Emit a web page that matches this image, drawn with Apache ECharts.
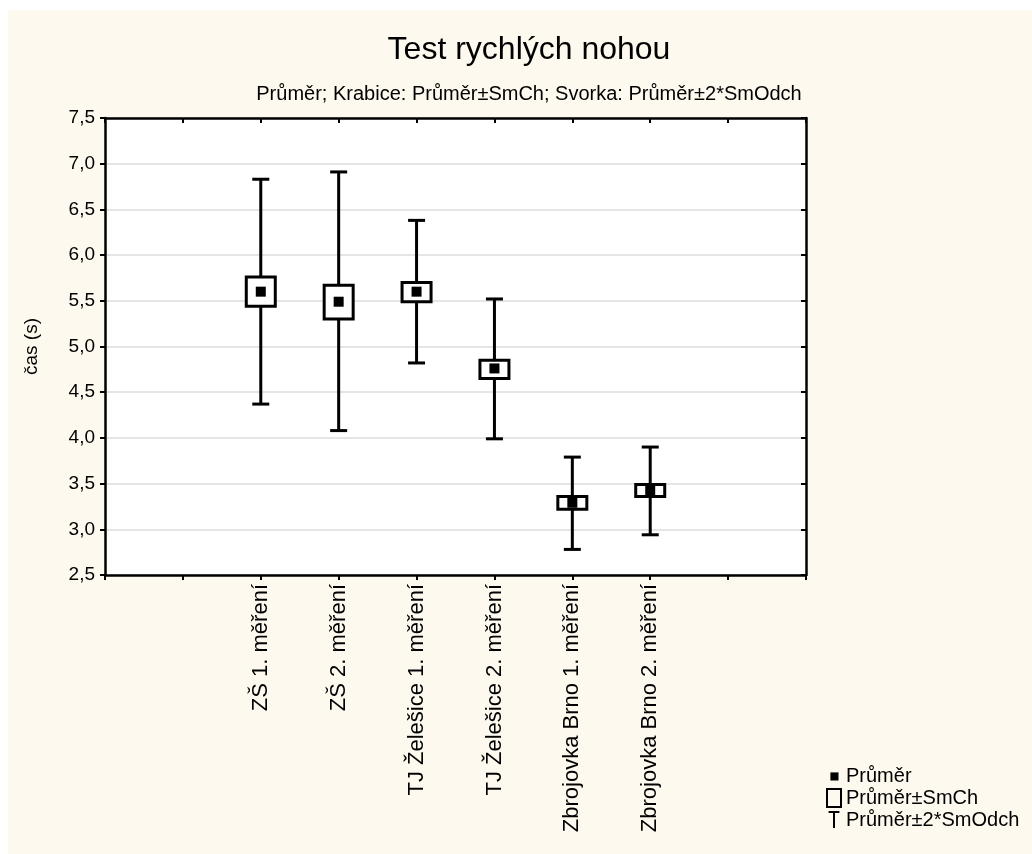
<!DOCTYPE html>
<html>
<head>
<meta charset="utf-8">
<script src="https://cdn.jsdelivr.net/npm/echarts@6/dist/echarts.min.js"></script>
<style>
  html, body { margin: 0; padding: 0; background: #ffffff; width: 1032px; height: 854px; overflow: hidden; }
  #chart { position: absolute; left: 8px; top: 10px; width: 1024px; height: 844px; background: #fef9ee; }
</style>
</head>
<body>
<div id="chart"></div>
<script>
// ---- data ----
const categories = ['ZŠ 1. měření', 'ZŠ 2. měření', 'TJ Želešice 1. měření', 'TJ Želešice 2. měření', 'Zbrojovka Brno 1. měření', 'Zbrojovka Brno 2. měření'];
const means      = [5.60, 5.49, 5.60, 4.76, 3.29, 3.42];
const boxLow     = [5.44, 5.30, 5.49, 4.65, 3.22, 3.36];
const boxHigh    = [5.76, 5.67, 5.70, 4.85, 3.36, 3.49];
const whiskLow   = [4.37, 4.08, 4.82, 3.99, 2.78, 2.94];
const whiskHigh  = [6.83, 6.91, 6.38, 5.52, 3.79, 3.90];
const yTicks     = ['2,5','3,0','3,5','4,0','4,5','5,0','5,5','6,0','6,5','7,0','7,5'];

const FONT = "'Liberation Sans', Arial, sans-serif";
const slotOffset = 2; // categories occupy axis slots 2..7 of 0..9

const meanData  = means.map((m, i) => [i + slotOffset, m]);
const boxData   = boxLow.map((lo, i) => [i + slotOffset, lo, boxHigh[i]]);
const whiskData = whiskLow.map((lo, i) => [i + slotOffset, lo, whiskHigh[i]]);

const chart = echarts.init(document.getElementById('chart'), null, { renderer: 'canvas' });

function renderWhisker(params, api) {
  const x = api.value(0);
  const lo = api.coord([x, api.value(1)]);
  const hi = api.coord([x, api.value(2)]);
  const cap = 8.5;
  const style = { stroke: '#000', lineWidth: 3, fill: null };
  return {
    type: 'group',
    children: [
      { type: 'line', shape: { x1: lo[0], y1: lo[1], x2: hi[0], y2: hi[1] }, style },
      { type: 'line', shape: { x1: lo[0] - cap, y1: lo[1], x2: lo[0] + cap, y2: lo[1] }, style },
      { type: 'line', shape: { x1: hi[0] - cap, y1: hi[1], x2: hi[0] + cap, y2: hi[1] }, style }
    ]
  };
}
function renderBox(params, api) {
  const x = api.value(0);
  const lo = api.coord([x, api.value(1)]);
  const hi = api.coord([x, api.value(2)]);
  const w = 29;
  return {
    type: 'rect',
    shape: { x: lo[0] - w / 2, y: hi[1], width: w, height: lo[1] - hi[1] },
    style: { fill: '#fff', stroke: '#000', lineWidth: 3 }
  };
}

const axisLineStyle = { color: '#000', width: 2.5 };

chart.setOption({
  animation: false,
  textStyle: { fontFamily: FONT, color: '#000' },
  title: [
    { text: 'Test rychlých nohou', left: 516, top: 19, textAlign: 'center',
      textStyle: { fontFamily: FONT, fontSize: 32, fontWeight: 'normal', color: '#000' } },
    { text: 'Průměr; Krabice: Průměr±SmCh; Svorka: Průměr±2*SmOdch', left: 516, top: 69, textAlign: 'center',
      textStyle: { fontFamily: FONT, fontSize: 20, fontWeight: 'normal', color: '#000' } }
  ],
  grid: { left: 97, top: 108, right: 226, bottom: 279, show: true, backgroundColor: '#fff', borderWidth: 0 },
  legend: {
    orient: 'vertical', left: 811, top: 751, itemGap: 2, itemWidth: 18, itemHeight: 18,
    textStyle: { fontFamily: FONT, fontSize: 20, color: '#000', padding: [0, 0, 0, -2] },
    data: [
      { name: 'Průměr', icon: 'path://M0,0M20,20M6,6h9v9h-9z', itemStyle: { color: '#000', borderWidth: 0 } },
      { name: 'Průměr±SmCh', icon: 'path://M3,1h14v18h-14z', itemStyle: { color: 'rgba(0,0,0,0)', borderColor: '#000', borderWidth: 2 } },
      { name: 'Průměr±2*SmOdch', icon: 'path://M0,0M20,20M4,1H16M10,1V19', itemStyle: { color: 'rgba(0,0,0,0)', borderColor: '#000', borderWidth: 2 } }
    ]
  },
  xAxis: [
    { type: 'value', position: 'bottom', min: 0, max: 9, interval: 1,
      axisLine: { show: true, onZero: false, lineStyle: axisLineStyle },
      axisTick: { show: true, inside: false, length: 5, lineStyle: { color: '#000', width: 2 } },
      splitLine: { show: false },
      axisLabel: { rotate: 90, margin: 9, fontSize: 22, fontFamily: FONT, color: '#000',
        formatter: v => categories[v - slotOffset] || '' } },
    { type: 'value', position: 'top', min: 0, max: 9, interval: 1,
      axisLine: { show: true, onZero: false, lineStyle: axisLineStyle },
      axisTick: { show: true, inside: true, length: 5, lineStyle: { color: '#000', width: 2 } },
      splitLine: { show: false }, axisLabel: { show: false } }
  ],
  yAxis: [
    { type: 'value', position: 'left', min: 2.5, max: 7.5, interval: 0.5,
      name: 'čas (s)', nameLocation: 'middle', nameGap: 64, nameRotate: 90,
      nameTextStyle: { fontFamily: FONT, fontSize: 19, color: '#000' },
      axisLine: { show: true, onZero: false, lineStyle: axisLineStyle },
      axisTick: { show: true, inside: false, length: 5, lineStyle: { color: '#000', width: 2 } },
      splitLine: { show: true, lineStyle: { color: '#dcdcdc', width: 1.5 } },
      axisLabel: { margin: 10, fontSize: 19, fontFamily: FONT, color: '#000',
        formatter: v => yTicks[Math.round((v - 2.5) / 0.5)] } },
    { type: 'value', position: 'right', min: 2.5, max: 7.5, interval: 0.5,
      axisLine: { show: true, onZero: false, lineStyle: axisLineStyle },
      axisTick: { show: true, inside: true, length: 5, lineStyle: { color: '#000', width: 2 } },
      splitLine: { show: false }, axisLabel: { show: false } }
  ],
  series: [
    { name: 'Průměr±2*SmOdch', type: 'custom', renderItem: renderWhisker, data: whiskData,
      encode: { x: 0, y: [1, 2] }, z: 2, itemStyle: { color: '#000' } },
    { name: 'Průměr±SmCh', type: 'custom', renderItem: renderBox, data: boxData,
      encode: { x: 0, y: [1, 2] }, z: 3, itemStyle: { color: '#000' } },
    { name: 'Průměr', type: 'scatter', data: meanData, symbol: 'rect', symbolSize: 10,
      itemStyle: { color: '#000', opacity: 1 }, z: 4 }
  ]
});
</script>
</body>
</html>
